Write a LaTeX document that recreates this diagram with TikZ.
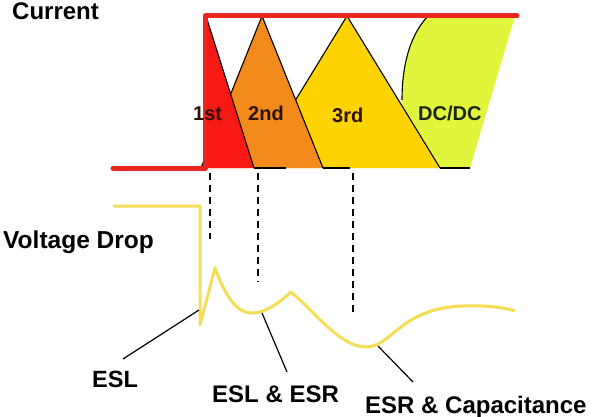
\documentclass[tikz,border=0pt]{standalone}
\usepackage{fontspec}
\setmainfont{Liberation Sans}
\definecolor{redbar}{HTML}{E8261F}
\definecolor{redf}{HTML}{F81814}
\definecolor{orangef}{HTML}{F28A1C}
\definecolor{yellowf}{HTML}{FFD300}
\definecolor{greenf}{HTML}{E0F53C}
\definecolor{voltc}{HTML}{F5DE55}
\definecolor{txtbrown}{HTML}{2E1200}
\definecolor{txtgreen}{HTML}{1B2600}
\begin{document}
\begin{tikzpicture}[x=1pt,y=-1pt,
  lbl/.style={font=\fontsize{24}{28}\selectfont\bfseries, inner sep=0pt, anchor=base west},
  trilbl/.style={font=\fontsize{20}{24}\selectfont\bfseries, inner sep=0pt, anchor=base west, text=txtbrown},
  edgeline/.style={black, line width=1.1pt},
  volt/.style={draw=voltc, line width=3pt, line join=round},
  callout/.style={black, line width=1.2pt},
  dashv/.style={black, line width=2pt, dash pattern=on 7pt off 5pt},
  barline/.style={redbar, line width=5pt, line cap=round, line join=round}]
\fill[white] (0,0) rectangle (599,417);
\useasboundingbox (0,0) rectangle (599,417);

% DC/DC region
\fill[greenf] (428,16) -- (515,16) -- (470,168) -- (400,168) -- (402,98)
  .. controls (402,65) and (410,35) .. (428,16) -- cycle;
\draw[edgeline] (402,100) .. controls (402,65) and (410,35) .. (428,16);
% 3rd
\fill[yellowf] (254,168) -- (347,16) -- (440,168) -- cycle;
\draw[edgeline] (254,168) -- (347,16) -- (440,168);
% 2nd
\fill[orangef] (201,168) -- (262,16) -- (323,168) -- cycle;
\draw[edgeline] (201,168) -- (262,16) -- (323,168);
% 1st
\fill[redf] (206,16) -- (206,168) -- (254,168) -- cycle;
\draw[edgeline] (206,16) -- (254,168);
% base segments
\draw[edgeline] (254,168) -- (286,168);
\draw[edgeline] (323,168) -- (350,168);
\draw[edgeline] (440,168) -- (470,168);
% current bar
\draw[barline] (113,168) -- (205,168) -- (205,16) -- (517,16);

% labels in triangles
\node[trilbl] (first) at (193,121) {1st};
\node[trilbl] (second) at (248,121) {2nd};
\node[trilbl] (third) at (332,122) {3rd};
\node[trilbl, text=txtgreen] (dcdc) at (418,121) {DC/DC};

% titles
\node[lbl] (current) at (12,20) {Current};
\node[lbl, font=\fontsize{24.5}{28}\selectfont\bfseries] (vdrop) at (3,248) {Voltage Drop};

% dashed markers
\coordinate (d1t) at (210,173); \coordinate (d1b) at (210,239);
\coordinate (d2t) at (258,173); \coordinate (d2b) at (258,282);
\coordinate (d3t) at (353,173); \coordinate (d3b) at (353,312);
\draw[dashv] (d1t) -- (d1b);
\draw[dashv] (d2t) -- (d2b);
\draw[dashv] (d3t) -- (d3b);

% voltage curve
\draw[volt] (113,206) -- (200,206) -- (200,325) -- (215,268)
  .. controls (225,295) and (236,313) .. (252,313)
  .. controls (266,313) and (280,302) .. (291,292)
  .. controls (315,312) and (340,347) .. (366,347)
  .. controls (392,347) and (400,308) .. (463,306)
  .. controls (490,305) and (505,308) .. (515,311);

% callouts
\node[lbl, font=\fontsize{23.5}{28}\selectfont\bfseries] (esl) at (92,387) {ESL};
\node[lbl] (eslesr) at (212,402) {ESL \& ESR};
\node[lbl] (esrcap) at (365,413) {ESR \& Capacitance};
\coordinate (p1) at (199,310); \coordinate (e1) at (123,359);
\coordinate (p2) at (262,313); \coordinate (e2) at (287,372);
\coordinate (p3) at (378,346); \coordinate (e3) at (413,382);
\draw[callout] (p1) -- (e1);
\draw[callout] (p2) -- (e2);
\draw[callout] (p3) -- (e3);
\end{tikzpicture}
\end{document}
